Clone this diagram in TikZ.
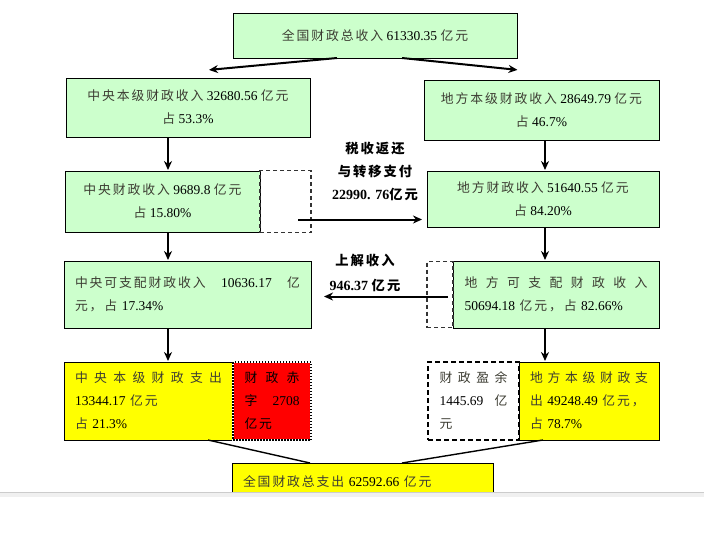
\documentclass[tikz,border=0pt]{standalone}
\usepackage{fontspec}
\setmainfont{Liberation Serif}
\newfontfamily\cjk[Scale=0.95,LetterSpace=15]{Noto Sans CJK SC}
\usetikzlibrary{arrows,arrows.meta,positioning}
\definecolor{revgreen}{RGB}{204,255,204}
\definecolor{expyellow}{RGB}{255,255,0}
\definecolor{zhgray}{RGB}{60,60,50}
\newcommand{\zh}[1]{{\cjk\color{zhgray}#1}}
\newcommand{\zhb}[1]{{\cjk\bfseries #1}}
\newcommand{\spreadline}[2]{\leavevmode\hbox to #1{#2}}

\begin{document}
\begin{tikzpicture}[x=1pt,y=-1pt,
    box/.style={draw,line width=1pt,inner sep=0pt,outer sep=0pt,font={\fontsize{13.5}{23}\selectfont}},
    revbox/.style={box,fill=revgreen,align=center},
    expbox/.style={box,fill=expyellow,align=left},
    gapbox/.style={box,draw=black!80,line width=1.4pt,dash pattern=on 4pt off 3pt},
    deficitbox/.style={box,fill=red,draw=white,line width=2.5pt,align=left,
        postaction={draw=black,line width=2.5pt,dash pattern=on 1.5pt off 1.5pt}},
    surplusbox/.style={box,fill=white,line width=1.8pt,dash pattern=on 5pt off 3pt,align=left},
    lbl/.style={align=center,font={\fontsize{14}{23}\selectfont\bfseries}},
    post/.style={-{Stealth[length=9pt,width=8pt]},shorten >=1pt,line width=2pt},
    link/.style={line width=1.4pt}
    ]
\useasboundingbox (0,0) rectangle (704,541);

\node[revbox,minimum width=284pt,minimum height=45pt] (totrev) at (375,35.5)
    {\zh{全国财政总收入} 61330.35 \zh{亿元}};

\node[revbox,minimum width=244pt,minimum height=59pt] (cenrev) at (188,107.5)
    {\zh{中央本级财政收入} 32680.56 \zh{亿元}\\\zh{占} 53.3\%};
\node[revbox,minimum width=235pt,minimum height=60pt] (locrev) at (541.5,110)
    {\zh{地方本级财政收入} 28649.79 \zh{亿元}\\\zh{占} 46.7\%};

\node[revbox,minimum width=195pt,minimum height=61pt] (cen) at (162.5,201.5)
    {\zh{中央财政收入} 9689.8 \zh{亿元}\\\zh{占} 15.80\%};
\node[gapbox,right=0pt of cen,minimum width=51pt,minimum height=62pt] (retbox) {};
\node[revbox,minimum width=232pt,minimum height=56pt] (loc) at (543,199)
    {\zh{地方财政收入} 51640.55 \zh{亿元}\\\zh{占} 84.20\%};

\node[revbox,align=left,text width=225pt,minimum width=247pt,minimum height=67pt] (cendisp) at (187.5,294.5)
    {\spreadline{225pt}{\zh{中央可支配财政收入}\hfill 10636.17\hfill\zh{亿}}\\\zh{元，占} 17.34\%};
\node[revbox,align=left,text width=183pt,minimum width=206pt,minimum height=67pt] (locdisp) at (556,294.5)
    {\spreadline{183pt}{\zh{地}\hfill\zh{方}\hfill\zh{可}\hfill\zh{支}\hfill\zh{配}\hfill\zh{财}\hfill\zh{政}\hfill\zh{收}\hfill\zh{入}}\\50694.18 \zh{亿元，占} 82.66\%};
\node[gapbox,left=0pt of locdisp,minimum width=26pt,minimum height=66pt] (upbox) {};

\node[expbox,text width=147pt,minimum width=169pt,minimum height=78pt] (cenexp) at (148.5,401)
    {\spreadline{147pt}{\zh{中}\hfill\zh{央}\hfill\zh{本}\hfill\zh{级}\hfill\zh{财}\hfill\zh{政}\hfill\zh{支}\hfill\zh{出}}\\13344.17 \zh{亿元}\\\zh{占} 21.3\%};
\node[deficitbox,right=0pt of cenexp,text width=55pt,minimum width=78pt,minimum height=78pt] (deficit)
    {\spreadline{55pt}{{\cjk 财}\hfill{\cjk 政}\hfill{\cjk 赤}}\\\spreadline{55pt}{{\cjk 字}\hfill 2708}\\{\cjk 亿元}};
\node[expbox,text width=118pt,minimum width=140pt,minimum height=78pt] (locexp) at (589,401)
    {\spreadline{118pt}{\zh{地}\hfill\zh{方}\hfill\zh{本}\hfill\zh{级}\hfill\zh{财}\hfill\zh{政}\hfill\zh{支}}\\\zh{出} 49248.49 \zh{亿元，}\\\zh{占} 78.7\%};
\node[surplusbox,left=0pt of locexp,text width=68pt,minimum width=91pt,minimum height=78pt] (surplus)
    {\spreadline{68pt}{\zh{财}\hfill\zh{政}\hfill\zh{盈}\hfill\zh{余}}\\\spreadline{68pt}{1445.69\hfill\zh{亿}}\\\zh{元}};

\node[expbox,text width=239pt,minimum width=261pt,minimum height=38pt] (totexp) at (362.5,482)
    {\zh{全国财政总支出} 62592.66 \zh{亿元}};

\node[lbl] (retlbl) at (375,171) {\zhb{税收返还}\\\zhb{与转移支付}\\22990. 76\zhb{亿元}};
\node[lbl] (uplbl) at (365,272.5) {\zhb{上解收入}\\[2pt]946.37 \zhb{亿元}};

\coordinate (lcol) at (168,0);
\coordinate (rcol) at (545,0);

\draw[post] ([xshift=-38pt]totrev.south) -- ([xshift=20pt,yshift=8pt]cenrev.north);
\draw[post] ([xshift=27pt]totrev.south) -- ([xshift=-23pt,yshift=10pt]locrev.north);

\draw[post] (cenrev.south -| lcol) -- (cen.north -| lcol);
\draw[post] (cen.south -| lcol) -- (cendisp.north -| lcol);
\draw[post] (cendisp.south -| lcol) -- (cenexp.north -| lcol);
\draw[post] (locrev.south -| rcol) -- (loc.north -| rcol);
\draw[post] (loc.south -| rcol) -- (locdisp.north -| rcol);
\draw[post] (locdisp.south -| rcol) -- (locexp.north -| rcol);

\coordinate (retstart) at ([xshift=-13pt,yshift=13pt]retbox.south east);
\draw[post,shorten >=5pt] (retstart) -- (retstart -| loc.west);
\coordinate (upstart) at ([xshift=-5pt,yshift=31pt]upbox.south east);
\draw[post,shorten >=13pt] (upstart) -- (upstart -| cendisp.east);

\draw[link] ([xshift=59.5pt]cenexp.south) -- ([xshift=-52.5pt]totexp.north);
\draw[link] ([xshift=-46pt]locexp.south) -- ([xshift=39.5pt]totexp.north);

% page edge
\fill[white] (0,492) rectangle (704,541);
\fill[gray!12] (0,492) rectangle (704,497);
\draw[gray!40] (0,492) -- (704,492);
\end{tikzpicture}
\end{document}
